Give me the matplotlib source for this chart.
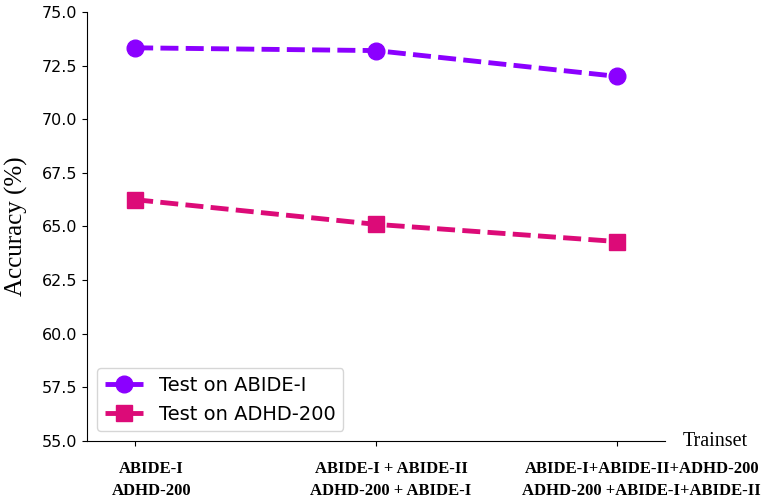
import numpy as np
import matplotlib.pyplot as plt
from matplotlib.transforms import ScaledTranslation

# accuracy of each train set combination on the two test sets
trainsets = ["ABIDE-I\nADHD-200",
             "ABIDE-I + ABIDE-II\nADHD-200 + ABIDE-I",
             "ABIDE-I+ABIDE-II+ADHD-200\nADHD-200 +ABIDE-I+ABIDE-II"]
acc_abide = [73.33, 73.2, 72.0]
acc_adhd = [66.25, 65.1, 64.3]

x = np.arange(len(trainsets))

fig = plt.figure(figsize=(7.66, 4.99), dpi=100)
ax = fig.add_axes([0.1136, 0.1162, 0.7544, 0.8598])

ax.plot(x, acc_abide, ls="--", lw=3.5, color="#8b00ff", marker="o",
        markersize=12, dashes=(3.7, 1.5), label="Test on ABIDE-I")
ax.plot(x, acc_adhd, ls="--", lw=3.5, color="#dc0b78", marker="s",
        markersize=12, dashes=(3.7, 1.5), label="Test on ADHD-200")

ax.set_xlim(-0.2, 2.2)
ax.set_ylim(55, 75)
yt = np.arange(55, 75.1, 2.5)
ax.set_yticks(yt)
ax.set_yticklabels(["%.1f" % v for v in yt], fontsize=11.5)
ax.set_xticks(x)
ax.set_xticklabels(trainsets, fontfamily="Liberation Serif", fontweight="bold",
                   fontsize=12, linespacing=1.45)
ax.tick_params(axis="x", pad=11)

# nudge the tick labels a little to the right
shifts = [16, 15, 25]
for lab, dx in zip(ax.get_xticklabels(), shifts):
    lab.set_transform(lab.get_transform() + ScaledTranslation(dx / 100, 0, fig.dpi_scale_trans))

for s in ["top", "right"]:
    ax.spines[s].set_visible(False)

ax.set_ylabel("Accuracy (%)", fontfamily="Liberation Serif", fontsize=18, labelpad=10)
ax.text(1.03, 0.0, "Trainset", transform=ax.transAxes, ha="left", va="center",
        fontfamily="Liberation Serif", fontsize=14.5)

ax.legend(loc="lower left", fontsize=14, handlelength=2.0, borderaxespad=0.5)

fig.savefig("out.png", dpi=100)
